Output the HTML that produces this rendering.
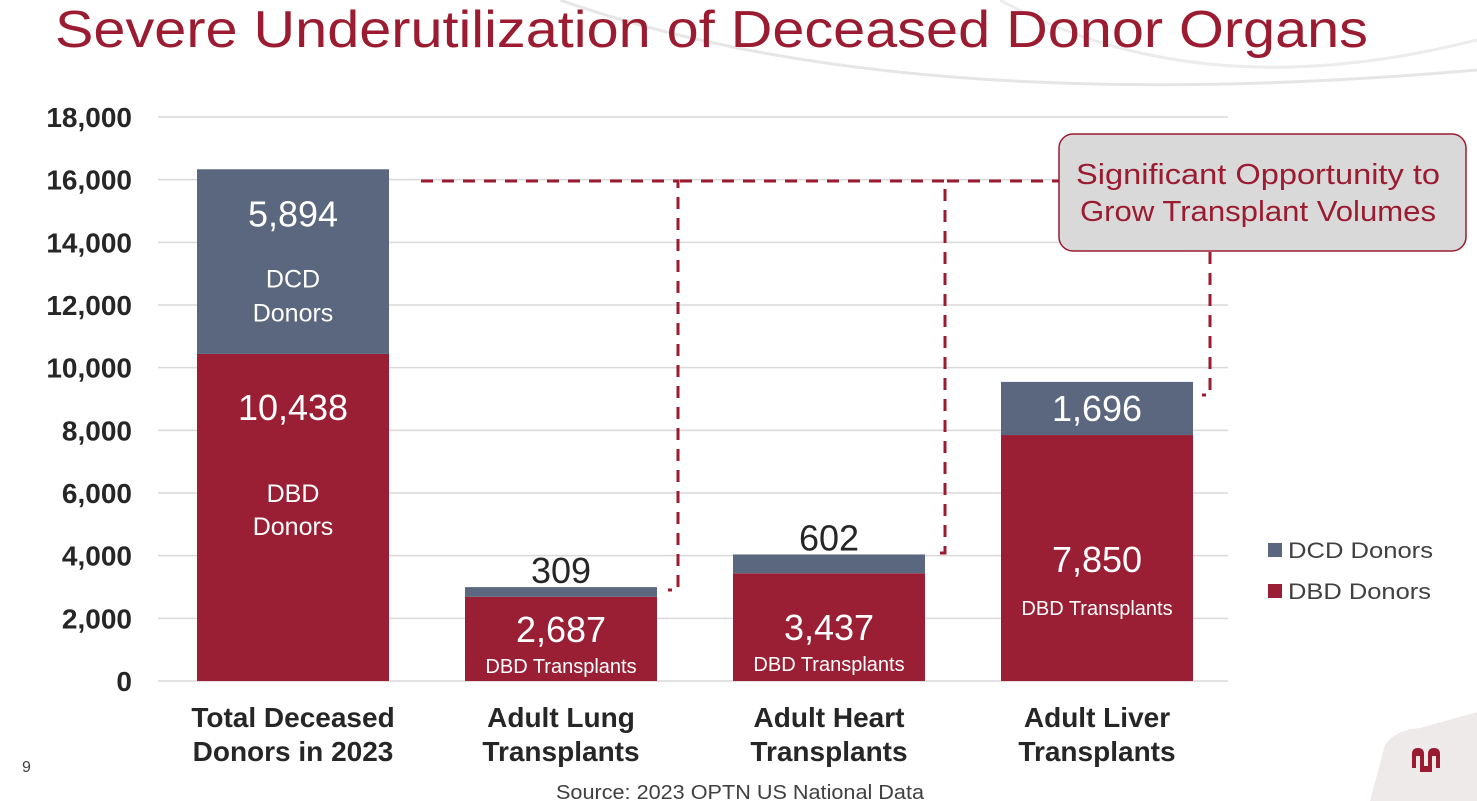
<!DOCTYPE html>
<html><head><meta charset="utf-8"><style>
body{margin:0;width:1477px;height:801px;overflow:hidden;background:#fff;font-family:"Liberation Sans",sans-serif;position:relative}
svg{position:absolute;left:0;top:0}
</style></head><body>
<svg width="1477" height="801">
<path d="M560 0 Q900 120 1477 70" stroke="#e6e6e6" stroke-width="3" fill="none"/>
<path d="M1000 0 Q1200 110 1477 40" stroke="#ececec" stroke-width="3" fill="none"/>
<path d="M1370 801 L1385 745 Q1395 730 1420 728 L1477 712 L1477 801Z" fill="#eeeaea"/>
<path d="M1412 768 L1412 754 Q1412 748 1418 748 Q1424 748 1424 754 L1424 766 L1428 766 L1428 754 Q1428 748 1434 748 Q1440 748 1440 754 L1440 768 L1436 768 L1436 756 L1432 756 L1432 772 L1420 772 L1420 756 L1416 756 L1416 768Z" fill="#9b1b30"/>
<text x="55" y="47" font-size="52" fill="#9b1b30" textLength="1313" lengthAdjust="spacingAndGlyphs">Severe Underutilization of Deceased Donor Organs</text>
<g id="grid"></g><g id="bars"></g>
<g fill="none" stroke="#9b1b30" stroke-width="3" stroke-dasharray="12,9">
<path d="M421 181 L678 181 L678 590 L668 590"/>
<path d="M680 181 L945 181 L945 553 L935 553"/>
<path d="M947 181 L1060 181"/>
<path d="M1210 252 L1210 395 L1202 395"/>
</g>
<rect x="1059" y="134" width="407" height="117" rx="14" fill="#d9d9d9" stroke="#9b1b30" stroke-width="1.5"/>
<text x="1258" y="184" font-size="29" fill="#9b1b30" text-anchor="middle" textLength="364" lengthAdjust="spacingAndGlyphs">Significant Opportunity to</text>
<text x="1258" y="221" font-size="29" fill="#9b1b30" text-anchor="middle" textLength="356" lengthAdjust="spacingAndGlyphs">Grow Transplant Volumes</text>
<rect x="1268" y="543" width="14" height="14" fill="#5b677e"/>
<text x="1288" y="558" font-size="22" fill="#404040" textLength="145" lengthAdjust="spacingAndGlyphs">DCD Donors</text>
<rect x="1268" y="584" width="14" height="14" fill="#9b1f34"/>
<text x="1288" y="599" font-size="22" fill="#404040" textLength="143" lengthAdjust="spacingAndGlyphs">DBD Donors</text>
<text x="22" y="772" font-size="16" fill="#404040">9</text>
<text x="740" y="799" font-size="20" fill="#404040" text-anchor="middle" textLength="368" lengthAdjust="spacingAndGlyphs">Source: 2023 OPTN US National Data</text>
</svg>
<script>
const categories=[["Total Deceased","Donors in 2023"],["Adult Lung","Transplants"],["Adult Heart","Transplants"],["Adult Liver","Transplants"]];
const dbd=[10438,2687,3437,7850];
const dcd=[5894,309,602,1696];
const dbdSub=[["DBD","Donors"],["DBD Transplants"],["DBD Transplants"],["DBD Transplants"]];
const dcdSub=[["DCD","Donors"],[],[],[]];
const ticks=[0,2000,4000,6000,8000,10000,12000,14000,16000,18000];
const NS="http://www.w3.org/2000/svg";
const y=v=>681-v*(564/18000);
const x=i=>197+i*268;
const W=192;
function mk(tag,attrs,parent,txt){const e=document.createElementNS(NS,tag);for(const k in attrs)e.setAttribute(k,attrs[k]);if(txt!=null)e.textContent=txt;parent.appendChild(e);return e;}
const g=document.getElementById('grid'),b=document.getElementById('bars');
ticks.forEach(t=>{
 const l=mk('line',{x1:158,x2:1228,y1:y(t),y2:y(t),stroke:'#d9d9d9','stroke-width':1.5},g);
 
 
 const tx=mk('text',{x:132,y:y(t)+10,'font-size':28,'font-weight':'bold',fill:'#262626','text-anchor':'end'},g,t.toLocaleString('en-US'));
 
 
});
categories.forEach((c,i)=>{
 const cx=x(i)+W/2;
 const r1=mk('rect',{x:x(i),y:y(dbd[i]),width:W,height:y(0)-y(dbd[i]),fill:'#9b1f34'},b);
 
 
 const r2=mk('rect',{x:x(i),y:y(dbd[i]+dcd[i]),width:W,height:y(dbd[i])-y(dbd[i]+dcd[i]),fill:'#5b677e'},b);
 
 
 const big=(y(dbd[i])-y(dbd[i]+dcd[i]))>40;
 const dy=big?y(dbd[i]+dcd[i])+(i==0?57:39):y(dbd[i]+dcd[i])-4;
 const t1=mk('text',{x:cx,y:dy,'font-size':36,fill:big?'#fff':'#262626','text-anchor':'middle'},b,dcd[i].toLocaleString('en-US'));
 
 
 dcdSub[i].forEach((s,k)=>{const t=mk('text',{x:cx,y:y(dbd[i]+dcd[i])+118+k*34,'font-size':25,fill:'#fff','text-anchor':'middle'},b,s);
  
  });
 const vy=i==0?y(dbd[i])+66:(i==3?y(dbd[i])+137:(y(dbd[i])+y(0))/2+ (i==1?3:13));
 const t2=mk('text',{x:cx,y:vy,'font-size':36,fill:'#fff','text-anchor':'middle'},b,dbd[i].toLocaleString('en-US'));
 
 
 dbdSub[i].forEach((s,k)=>{const sy=i==0?y(dbd[i])+148+k*33:vy+(i==3?43:31);
  const t=mk('text',{x:cx,y:sy,'font-size':i==0?25:20,fill:'#fff','text-anchor':'middle'},b,s);
  
  });
 c.forEach((s,k)=>{const t=mk('text',{x:cx,y:727+k*34,'font-size':28,'font-weight':'bold',fill:'#262626','text-anchor':'middle'},b,s);
  
  });
});
</script>
</body></html>
